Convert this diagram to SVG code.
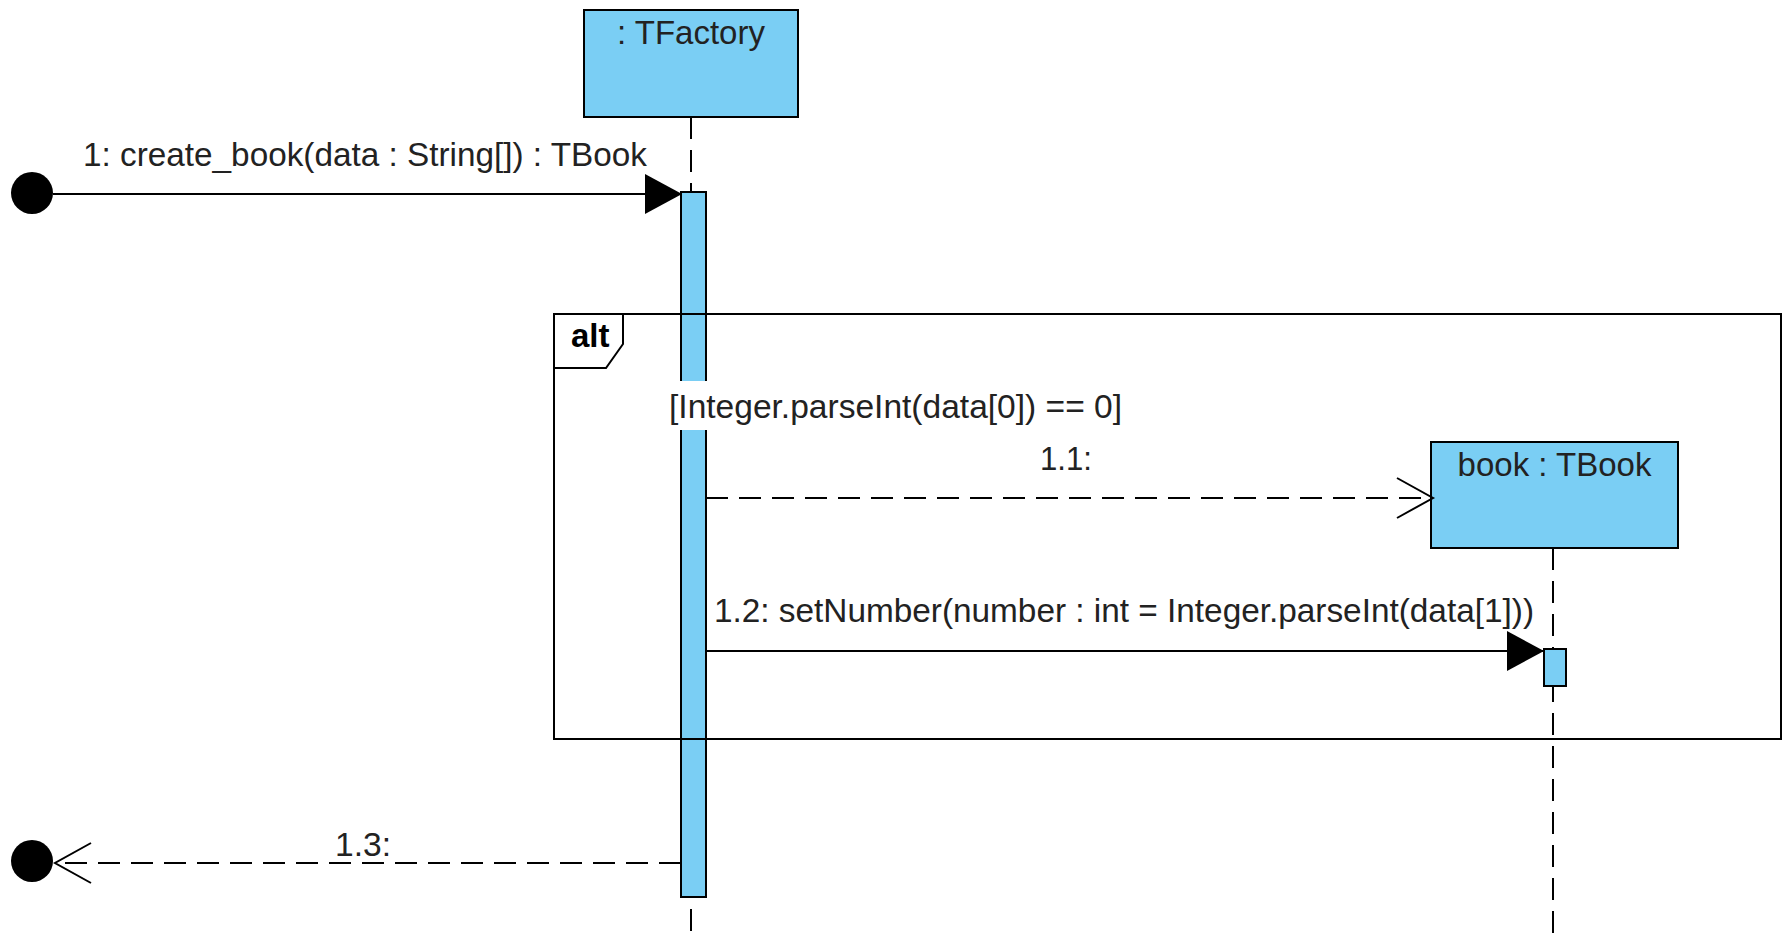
<svg xmlns="http://www.w3.org/2000/svg" width="1788" height="937" viewBox="0 0 1788 937">
  <style>
    .obj { fill: #7ACEF4; stroke: #000; stroke-width: 2; }
    .bar { fill: #7ACEF4; stroke: #000; stroke-width: 2; }
    .life { stroke: #000; stroke-width: 2; stroke-dasharray: 22 11; fill: none; }
    .msg { stroke: #000; stroke-width: 2; fill: none; }
    .ret { stroke: #000; stroke-width: 2; fill: none; stroke-dasharray: 22 11; }
    .frame { fill: none; stroke: #000; stroke-width: 2; }
    .lbl { font-family: "Liberation Sans", Arial, sans-serif; font-size: 33px; fill: #222; }
    .kw { font-family: "Liberation Sans", Arial, sans-serif; font-size: 33px; font-weight: bold; fill: #000; }
  </style>
  <defs>
    <marker id="sync" markerUnits="userSpaceOnUse" markerWidth="38" markerHeight="40" viewBox="0 0 38 40" refX="37" refY="20" orient="auto">
      <path d="M0,0 L37,20 L0,40 Z" fill="#000"/>
    </marker>
    <marker id="open" markerUnits="userSpaceOnUse" markerWidth="42" markerHeight="44" viewBox="0 0 42 44" refX="38" refY="22" orient="auto">
      <path d="M2,2 L38,22 L2,42" fill="none" stroke="#000" stroke-width="2"/>
    </marker>
  </defs>

  <rect width="1788" height="937" fill="#fff"/>

  <!-- lifelines -->
  <g id="lifelines">
    <line class="life" x1="691" y1="117" x2="691" y2="937"/>
    <line class="life" x1="1553" y1="548" x2="1553" y2="937"/>
  </g>

  <!-- : TFactory -->
  <g id="tfactory">
    <rect class="obj" x="584" y="10" width="214" height="107"/>
    <text class="lbl" x="691" y="44" text-anchor="middle">: TFactory</text>
    <rect class="bar" x="681" y="192" width="25" height="705"/>
  </g>

  <!-- book : TBook -->
  <g id="book">
    <rect class="obj" x="1431" y="442" width="247" height="106"/>
    <text class="lbl" x="1554.5" y="476" text-anchor="middle">book : TBook</text>
    <rect class="bar" x="1544" y="649" width="22" height="37"/>
  </g>

  <!-- alt combined fragment -->
  <g id="alt">
    <rect class="frame" x="554" y="314" width="1227" height="425"/>
    <path class="frame" d="M554,368 L606,368 L623,344 L623,314"/>
    <text class="kw" x="571" y="347">alt</text>
    <rect x="667" y="381" width="457" height="49" fill="#fff"/>
    <text class="lbl" x="669" y="418" textLength="453" lengthAdjust="spacingAndGlyphs">[Integer.parseInt(data[0]) == 0]</text>
  </g>

  <!-- gates -->
  <g id="gate-in">
    <circle cx="32" cy="193" r="21" fill="#000"/>
  </g>
  <g id="gate-out">
    <circle cx="32" cy="861" r="21" fill="#000"/>
  </g>

  <!-- messages -->
  <g id="connectors">
    <line class="msg" x1="53" y1="194" x2="682" y2="194" marker-end="url(#sync)"/>
    <text class="lbl" x="83" y="166" textLength="564" lengthAdjust="spacingAndGlyphs">1: create_book(data : String[]) : TBook</text>

    <line class="ret" x1="706" y1="498" x2="1433" y2="498" marker-end="url(#open)"/>
    <text class="lbl" x="1040" y="470" textLength="52" lengthAdjust="spacingAndGlyphs">1.1:</text>

    <line class="msg" x1="706" y1="651" x2="1544" y2="651" marker-end="url(#sync)"/>
    <text class="lbl" x="714" y="622" textLength="820" lengthAdjust="spacingAndGlyphs">1.2: setNumber(number : int = Integer.parseInt(data[1]))</text>

    <line class="ret" x1="681" y1="863" x2="55" y2="863" marker-end="url(#open)"/>
    <text class="lbl" x="335" y="856" textLength="56" lengthAdjust="spacingAndGlyphs">1.3:</text>
  </g>
</svg>
